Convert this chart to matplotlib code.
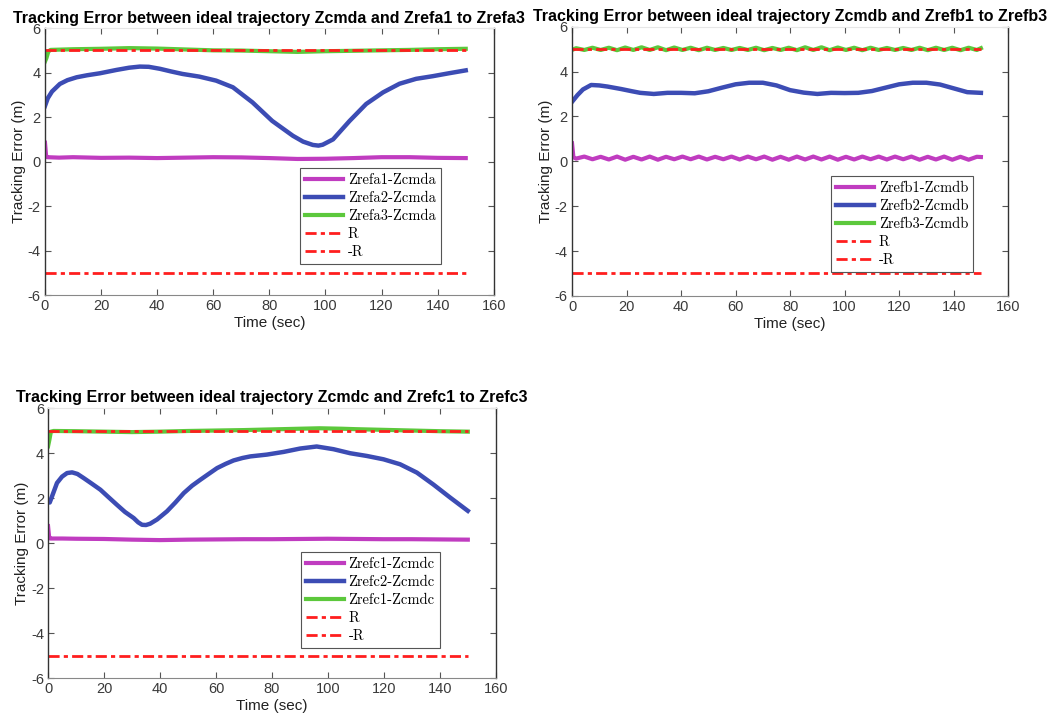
import numpy as np
import matplotlib
matplotlib.use("Agg")
import matplotlib.pyplot as plt

# ---------------- data ----------------
R_t = [0, 150]
R_pos = [5, 5]
R_neg = [-5, -5]

# Panel A
a1_t = [0, 0.4, 0.8, 5, 10, 20, 30, 40, 50, 60, 70, 80, 90, 100, 110, 120, 130, 140, 150]
a1_v = [0.85, 0.25, 0.2, 0.18, 0.2, 0.17, 0.18, 0.16, 0.18, 0.2, 0.19, 0.16, 0.12, 0.13, 0.16, 0.2, 0.2, 0.17, 0.16]
a2_t = [0, 1, 2.5, 5.3, 8, 11.3, 15, 19.6, 25.5, 30, 33.8, 37, 41, 45, 49, 55, 61, 67, 74, 81, 88.4, 92,
        95.5, 97.5, 99, 102.7, 108.6, 114.5, 120.5, 126.4, 132.3, 138.3, 144, 150]
a2_v = [2.5, 2.85, 3.15, 3.49, 3.66, 3.79, 3.88, 3.97, 4.12, 4.22, 4.27, 4.26, 4.17, 4.05, 3.94, 3.82, 3.64, 3.34,
        2.66, 1.83, 1.16, 0.9, 0.75, 0.72, 0.76, 1.0, 1.83, 2.59, 3.11, 3.5, 3.72, 3.84, 3.97, 4.1]
a3_t = [0, 0.5, 1.2, 2, 10, 20, 30, 40, 50, 60, 70, 80, 90, 100, 110, 120, 130, 140, 150]
a3_v = [4.5, 4.65, 4.95, 5.02, 5.05, 5.07, 5.1, 5.08, 5.04, 5.0, 4.99, 4.96, 4.93, 4.96, 4.98, 5.0, 5.02, 5.05, 5.07]

# Panel B
b1_t = [0, 0.5, 1.5, 4.5, 7.5, 10.5, 13.5, 16.5, 19.5, 22.5, 25.5, 28.5, 31.5, 34.5, 37.5, 40.5, 43.5, 46.5,
        49.5, 52.5, 55.5, 58.5, 61.5, 64.5, 67.5, 70.5, 73.5, 76.5, 79.5, 82.5, 85.5, 88.5, 91.5, 94.5, 97.5,
        100.5, 103.5, 106.5, 109.5, 112.5, 115.5, 118.5, 121.5, 124.5, 127.5, 130.5, 133.5, 136.5, 139.5,
        142.5, 145.5, 148.5, 150]
b1_v = [0.8, 0.18, 0.12, 0.21, 0.09, 0.2, 0.08, 0.21, 0.07, 0.2, 0.08, 0.21, 0.07, 0.2, 0.09, 0.21, 0.09,
        0.21, 0.08, 0.2, 0.09, 0.21, 0.08, 0.21, 0.09, 0.21, 0.07, 0.2, 0.07, 0.21, 0.08, 0.21, 0.08, 0.21,
        0.07, 0.2, 0.08, 0.21, 0.09, 0.21, 0.08, 0.21, 0.09, 0.21, 0.07, 0.2, 0.08, 0.21, 0.07, 0.2,
        0.07, 0.2, 0.19]
b2_t = [0, 2, 4, 7, 10, 13, 18, 22, 25, 30, 35, 40, 45, 50, 55, 60, 65, 70, 75, 80, 85, 90, 95, 100, 105,
        110, 115, 120, 125, 130, 135, 140, 145, 150]
b2_v = [2.65, 2.95, 3.2, 3.4, 3.38, 3.33, 3.22, 3.12, 3.05, 3.0, 3.05, 3.05, 3.03, 3.12, 3.28, 3.43, 3.5,
        3.5, 3.38, 3.17, 3.06, 3.0, 3.05, 3.04, 3.05, 3.13, 3.28, 3.43, 3.5, 3.5, 3.42, 3.25, 3.08, 3.05]
b3_t = [0, 1.5, 4.5, 7.5, 10.5, 13.5, 16.5, 19.5, 22.5, 25.5, 28.5, 31.5, 34.5, 37.5, 40.5, 43.5, 46.5,
        49.5, 52.5, 55.5, 58.5, 61.5, 64.5, 67.5, 70.5, 73.5, 76.5, 79.5, 82.5, 85.5, 88.5, 91.5, 94.5, 97.5,
        100.5, 103.5, 106.5, 109.5, 112.5, 115.5, 118.5, 121.5, 124.5, 127.5, 130.5, 133.5, 136.5, 139.5,
        142.5, 145.5, 148.5, 150]
b3_v = [4.96, 5.04, 4.96, 5.06, 4.96, 5.06, 4.95, 5.07, 4.96, 5.08, 4.96, 5.08, 4.95, 5.07, 4.96, 5.06, 4.95,
        5.06, 4.96, 5.05, 4.96, 5.05, 4.96, 5.06, 4.95, 5.05, 4.96, 5.06, 4.95, 5.08, 4.96, 5.08, 4.95, 5.07,
        4.96, 5.06, 4.95, 5.06, 4.96, 5.05, 4.96, 5.05, 4.96, 5.06, 4.95, 5.06, 4.96, 5.06, 4.95, 5.06,
        4.96, 5.04]

# Panel C
c1_t = [0, 0.4, 0.8, 5, 10, 20, 30, 40, 50, 60, 70, 80, 90, 100, 110, 120, 130, 140, 150]
c1_v = [0.75, 0.25, 0.2, 0.2, 0.19, 0.18, 0.15, 0.13, 0.15, 0.16, 0.17, 0.17, 0.18, 0.19, 0.18, 0.17, 0.17, 0.16, 0.15]
c2_t = [0, 0.6, 1.5, 3.2, 5, 6.8, 8.6, 10.5, 12.7, 15.5, 18.7, 21.5, 24.6, 27.5, 30.6, 32.2, 33.6, 35, 36.5,
        39, 42.5, 45.5, 48.5, 51.5, 54.4, 57.5, 60.4, 63.5, 66.3, 69.5, 72.3, 78.2, 84.2, 90.1, 96, 102,
        108, 113.9, 119.9, 125.8, 131.8, 137.7, 143.7, 150]
c2_v = [1.85, 1.8, 2.1, 2.67, 2.95, 3.11, 3.14, 3.07, 2.89, 2.65, 2.37, 2.05, 1.7, 1.38, 1.11, 0.92, 0.81,
        0.8, 0.86, 1.05, 1.41, 1.8, 2.22, 2.55, 2.81, 3.08, 3.33, 3.52, 3.67, 3.78, 3.85, 3.93, 4.05, 4.2,
        4.29, 4.17, 3.99, 3.87, 3.72, 3.5, 3.13, 2.6, 2.02, 1.43]
c3_t = [0, 0.5, 1.0, 2, 10, 20, 30, 40, 50, 60, 70, 80, 90, 97, 105, 110, 120, 130, 140, 150]
c3_v = [4.3, 4.6, 4.95, 4.98, 4.97, 4.95, 4.93, 4.95, 4.98, 5.0, 5.02, 5.05, 5.08, 5.1, 5.08, 5.06, 5.03,
        5.0, 4.97, 4.95]

titles = ["Tracking Error between ideal trajectory Zcmda and Zrefa1 to Zrefa3",
          "Tracking Error between ideal trajectory Zcmdb and Zrefb1 to Zrefb3",
          "Tracking Error between ideal trajectory Zcmdc and Zrefc1 to Zrefc3"]
legends = [["Zrefa1-Zcmda", "Zrefa2-Zcmda", "Zrefa3-Zcmda", "R", "-R"],
           ["Zrefb1-Zcmdb", "Zrefb2-Zcmdb", "Zrefb3-Zcmdb", "R", "-R"],
           ["Zrefc1-Zcmdc", "Zrefc2-Zcmdc", "Zrefc1-Zcmdc", "R", "-R"]]
xticks = [0, 20, 40, 60, 80, 100, 120, 140, 160]
yticks = [-6, -4, -2, 0, 2, 4, 6]

series = [((a1_t, a1_v), (a2_t, a2_v), (a3_t, a3_v)),
          ((b1_t, b1_v), (b2_t, b2_v), (b3_t, b3_v)),
          ((c1_t, c1_v), (c2_t, c2_v), (c3_t, c3_v))]

# ---------------- style ----------------
col_mag = "#c03cc0"
col_blue = "#3c4cb4"
col_green = "#5cc83c"
col_red = "#ff1e1e"

plt.rcParams['font.family'] = ['Liberation Sans', 'DejaVu Sans']

fig = plt.figure(figsize=(10.56, 7.2), dpi=100)
rects = [[0.0426, 0.590, 0.425, 0.371],
         [0.5417, 0.589, 0.413, 0.374],
         [0.0455, 0.0583, 0.424, 0.375]]
leg_anchor = [(0.882, 0.476), (0.92, 0.445), (0.875, 0.467)]

for i in range(3):
    ax = fig.add_axes(rects[i])
    (t1, v1), (t2, v2), (t3, v3) = series[i]
    ax.plot(t1, v1, color=col_mag, lw=3.0, label=legends[i][0], solid_joinstyle='round')
    ax.plot(t2, v2, color=col_blue, lw=3.2, label=legends[i][1], solid_joinstyle='round')
    ax.plot(t3, v3, color=col_green, lw=3.0, label=legends[i][2], solid_joinstyle='round')
    ax.plot(R_t, R_pos, color=col_red, lw=2.0, ls=(0, (4, 1.5, 1.5, 1.5)), label=legends[i][3])
    ax.plot(R_t, R_neg, color=col_red, lw=2.0, ls=(0, (4, 1.5, 1.5, 1.5)), label=legends[i][4])
    ax.set_xlim(0, 160)
    ax.set_ylim(-6, 6)
    ax.set_xticks(xticks)
    ax.set_yticks(yticks)
    ax.set_yticklabels([str(v) for v in yticks])
    ax.tick_params(direction='in', top=True, right=True, length=4, width=0.8,
                   labelsize=10.5, colors='#555555', labelcolor='#3a3a3a', pad=3)
    for s in ['left', 'right']:
        ax.spines[s].set_color('#333333')
        ax.spines[s].set_linewidth(1.0)
    ax.spines['bottom'].set_color('#888888')
    ax.spines['top'].set_color('#e6e6e6')
    ax.set_xlabel("Time (sec)", fontsize=11, color='#222222', labelpad=2)
    ax.set_ylabel("Tracking Error (m)", fontsize=11, color='#222222', labelpad=1)
    ax.set_title(titles[i], fontsize=11.5, fontweight='bold', pad=4)
    leg = ax.legend(loc='upper right', bbox_to_anchor=leg_anchor[i], prop={'family': 'cmr10', 'size': 10.5},
                    handlelength=2.6, handletextpad=0.3, borderpad=0.35, labelspacing=0.3,
                    fancybox=False, framealpha=1, edgecolor='#555555', borderaxespad=0)
    leg.get_frame().set_linewidth(0.8)

fig.savefig("out.png", dpi=100)
